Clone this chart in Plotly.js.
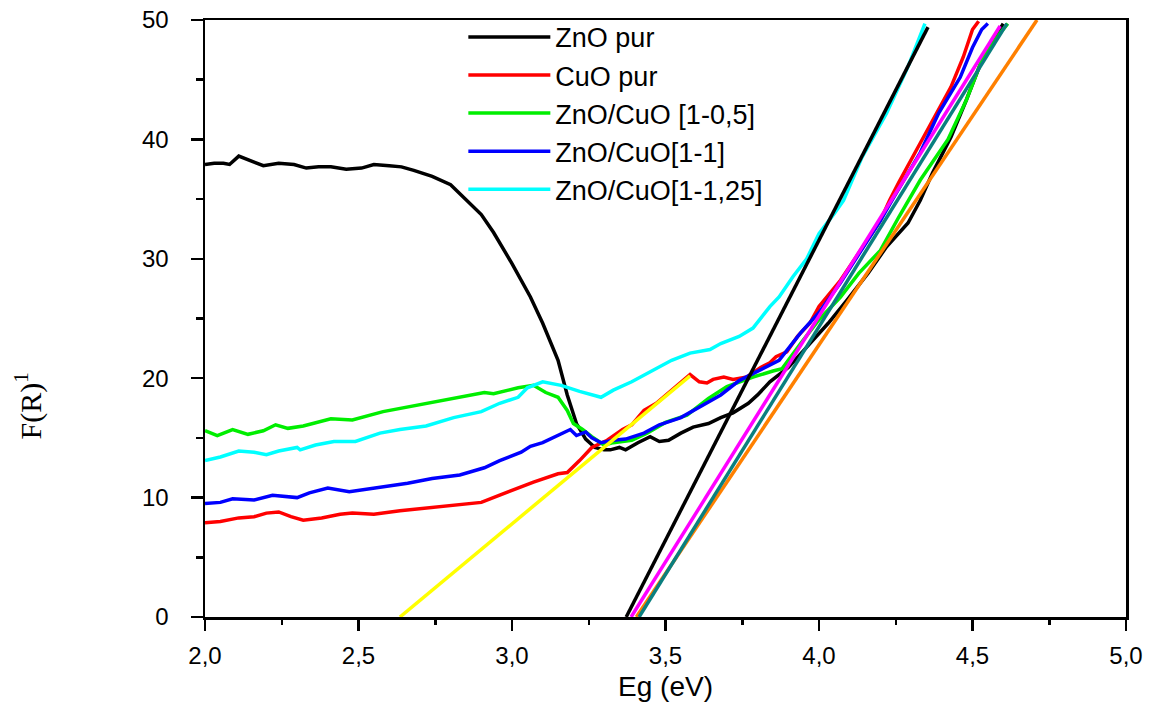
<!DOCTYPE html>
<html>
<head>
<meta charset="utf-8">
<script src="https://cdn.plot.ly/plotly-3.0.1.min.js"></script>
<style>html,body{margin:0;padding:0;background:#fff;}#chart{width:1153px;height:715px;}</style>
</head>
<body>
<div id="chart"></div>
<script>
// ---- Data ----
const seriesNames = ["ZnO pur", "CuO pur", "ZnO/CuO [1-0,5]", "ZnO/CuO[1-1]", "ZnO/CuO[1-1,25]"];
const xTitle = "Eg (eV)";
const yTitle = "F(R)<sup>1</sup>";

const znoX = [2.00,2.03,2.06,2.08,2.11,2.15,2.19,2.24,2.29,2.33,2.37,2.41,2.46,2.51,2.55,2.60,2.64,2.68,2.74,2.80,2.84,2.90,2.94,3.00,3.06,3.10,3.15,3.18,3.21,3.24,3.27,3.30,3.32,3.35,3.37,3.41,3.45,3.48,3.51,3.55,3.59,3.64,3.68,3.72,3.77,3.80,3.84,3.87,3.90,3.96,4.03,4.09,4.16,4.22,4.29,4.33,4.37,4.43,4.48,4.53,4.58,4.60];
const znoY = [37.9,38.0,38.0,37.9,38.6,38.2,37.8,38.0,37.9,37.6,37.7,37.7,37.5,37.6,37.9,37.8,37.7,37.4,36.9,36.2,35.2,33.7,32.2,29.6,26.8,24.6,21.5,18.6,16.2,14.9,14.2,14.0,14.0,14.2,14.0,14.6,15.1,14.7,14.8,15.4,15.9,16.2,16.7,17.1,17.9,18.6,19.7,20.3,20.9,22.6,24.6,26.5,28.8,31.0,33.0,34.9,37.2,40.2,43.3,46.6,48.9,49.7];

const cuoX = [2.00,2.05,2.11,2.16,2.20,2.24,2.28,2.32,2.38,2.44,2.48,2.55,2.635,2.74,2.85,2.90,2.96,3.02,3.07,3.15,3.18,3.22,3.26,3.31,3.36,3.39,3.43,3.47,3.51,3.55,3.58,3.61,3.635,3.655,3.69,3.72,3.765,3.81,3.84,3.86,3.895,3.93,3.97,4.00,4.07,4.13,4.20,4.23,4.26,4.33,4.37,4.43,4.47,4.50,4.52];
const cuoY = [7.9,8.0,8.3,8.4,8.7,8.8,8.4,8.1,8.3,8.6,8.7,8.6,8.9,9.2,9.5,9.6,10.2,10.8,11.3,12.0,12.1,13.1,14.2,14.8,15.7,16.1,17.3,17.9,18.8,19.7,20.3,19.7,19.6,19.9,20.1,19.9,20.1,20.9,21.3,21.8,22.2,23.5,24.6,26.0,28.2,30.5,33.2,34.9,36.4,39.7,41.6,44.4,46.9,49.2,49.9];

const zc05X = [2.00,2.04,2.09,2.14,2.19,2.23,2.27,2.32,2.41,2.48,2.58,2.72,2.81,2.91,2.94,3.02,3.07,3.11,3.15,3.18,3.20,3.23,3.26,3.30,3.33,3.39,3.44,3.50,3.57,3.64,3.70,3.785,3.85,3.88,3.94,4.00,4.07,4.13,4.20,4.26,4.33,4.42,4.48,4.53,4.59,4.615];
const zc05Y = [15.6,15.2,15.7,15.3,15.6,16.1,15.8,16.0,16.6,16.5,17.2,17.9,18.3,18.8,18.7,19.2,19.4,18.8,18.4,17.3,16.2,15.7,15.1,14.4,14.6,14.8,15.4,16.3,16.9,18.3,19.3,20.1,20.6,20.8,22.9,24.9,26.8,28.8,30.7,33.5,36.6,40.0,43.3,46.6,48.9,49.7];

const zc1X = [2.00,2.05,2.09,2.16,2.22,2.30,2.34,2.40,2.47,2.57,2.66,2.74,2.83,2.91,2.96,3.03,3.06,3.10,3.15,3.19,3.21,3.24,3.26,3.29,3.33,3.37,3.43,3.48,3.55,3.61,3.68,3.74,3.81,3.87,3.94,4.00,4.07,4.13,4.20,4.24,4.33,4.39,4.46,4.50,4.53,4.55];
const zc1Y = [9.5,9.6,9.9,9.8,10.2,10.0,10.4,10.8,10.5,10.9,11.2,11.6,11.9,12.5,13.1,13.8,14.3,14.6,15.2,15.7,15.2,15.5,15.0,14.6,14.8,14.9,15.4,16.1,16.7,17.6,18.6,19.8,20.7,21.5,23.8,25.5,28.0,30.4,33.2,35.0,38.9,42.2,45.2,47.7,49.2,49.7];

const zc125X = [2.00,2.05,2.11,2.16,2.20,2.24,2.30,2.31,2.36,2.42,2.49,2.57,2.635,2.72,2.81,2.90,2.96,3.02,3.05,3.10,3.16,3.22,3.29,3.33,3.39,3.46,3.52,3.58,3.645,3.68,3.74,3.785,3.84,3.87,3.915,3.96,4.00,4.05,4.08,4.14,4.22,4.29,4.345];
const zc125Y = [13.1,13.4,13.9,13.8,13.6,13.9,14.2,14.0,14.4,14.7,14.7,15.4,15.7,16.0,16.7,17.2,17.9,18.4,19.2,19.7,19.4,18.9,18.4,19.0,19.7,20.7,21.5,22.1,22.4,22.9,23.5,24.2,26.0,26.8,28.5,30.0,32.1,33.8,34.9,38.5,42.2,46.1,49.7];

// linear extrapolation (Tauc) lines: endpoints
const fitOrangeX = [3.405, 4.71],  fitOrangeY = [0, 50];
const fitTealX   = [3.414, 4.612], fitTealY   = [0, 49.7];
const fitMagX    = [3.388, 4.59],  fitMagY    = [0, 49.5];
const fitBlackX  = [3.372, 4.355], fitBlackY  = [0, 49.4];
const fitYellowX = [2.635, 3.58],  fitYellowY = [0, 20.2];

const xTickVals = [2.0, 2.5, 3.0, 3.5, 4.0, 4.5, 5.0];
const yTickVals = [0, 10, 20, 30, 40, 50];

// ---- Traces ----
const W = 3.5;
function curve(x, y, name, color) {
  return {x: x, y: y, name: name, type: 'scatter', mode: 'lines',
          line: {color: color, width: W}, showlegend: true};
}
function fit(x, y, color) {
  return {x: x, y: y, type: 'scatter', mode: 'lines',
          line: {color: color, width: W}, showlegend: false, hoverinfo: 'skip'};
}

const data = [
  curve(znoX, znoY, seriesNames[0], '#000000'),
  curve(cuoX, cuoY, seriesNames[1], '#ff0000'),
  curve(zc05X, zc05Y, seriesNames[2], '#00ee00'),
  curve(zc1X, zc1Y, seriesNames[3], '#0000ff'),
  curve(zc125X, zc125Y, seriesNames[4], '#00ffff'),
  fit(fitOrangeX, fitOrangeY, '#ff8000'),
  fit(fitTealX, fitTealY, '#0a7f7f'),
  fit(fitMagX, fitMagY, '#ff00ff'),
  fit(fitBlackX, fitBlackY, '#000000'),
  fit(fitYellowX, fitYellowY, '#ffff00')
];

const font = 'Arial, "Liberation Sans", sans-serif';

const layout = {
  width: 1153, height: 715,
  margin: {l: 205, r: 27, t: 20, b: 98},
  paper_bgcolor: '#ffffff', plot_bgcolor: '#ffffff',
  separators: ', ',
  showlegend: true,
  legend: {
    x: 0.2805, y: 1.012, xanchor: 'left', yanchor: 'top',
    bgcolor: 'rgba(0,0,0,0)', borderwidth: 0,
    font: {family: font, size: 27, color: '#000'},
    itemwidth: 82, tracegroupgap: 0
  },
  xaxis: {
    range: [2, 5], tickvals: xTickVals, tickformat: '.1f',
    ticks: 'outside', ticklen: 11, tickwidth: 2.5, tickcolor: '#000',
    minor: {dtick: 0.25, tick0: 2, ticks: 'outside', ticklen: 5, tickwidth: 2.5, tickcolor: '#000'},
    showline: true, linecolor: '#000', linewidth: 2.5, mirror: true,
    showgrid: false, zeroline: false,
    ticklabelstandoff: 5,
    tickfont: {family: font, size: 24, color: '#000'},
    title: {text: xTitle, font: {family: font, size: 28, color: '#000'}, standoff: 8}
  },
  yaxis: {
    range: [0, 50], tickvals: yTickVals,
    ticks: 'outside', ticklen: 12, tickwidth: 2.5, tickcolor: '#000',
    minor: {dtick: 5, tick0: 0, ticks: 'outside', ticklen: 7, tickwidth: 2.5, tickcolor: '#000'},
    showline: true, linecolor: '#000', linewidth: 2.5, mirror: true,
    showgrid: false, zeroline: false,
    ticklabelstandoff: 17,
    tickfont: {family: font, size: 24, color: '#000'}
  },
  annotations: [{
    text: yTitle, xref: 'paper', yref: 'paper',
    x: -0.192, y: 0.353, xanchor: 'center', yanchor: 'middle',
    textangle: -90, showarrow: false,
    font: {family: '"Times New Roman", "Liberation Serif", serif', size: 30, color: '#000'}
  }]
};

Plotly.newPlot('chart', data, layout, {displayModeBar: false, staticPlot: true});
</script>
</body>
</html>
